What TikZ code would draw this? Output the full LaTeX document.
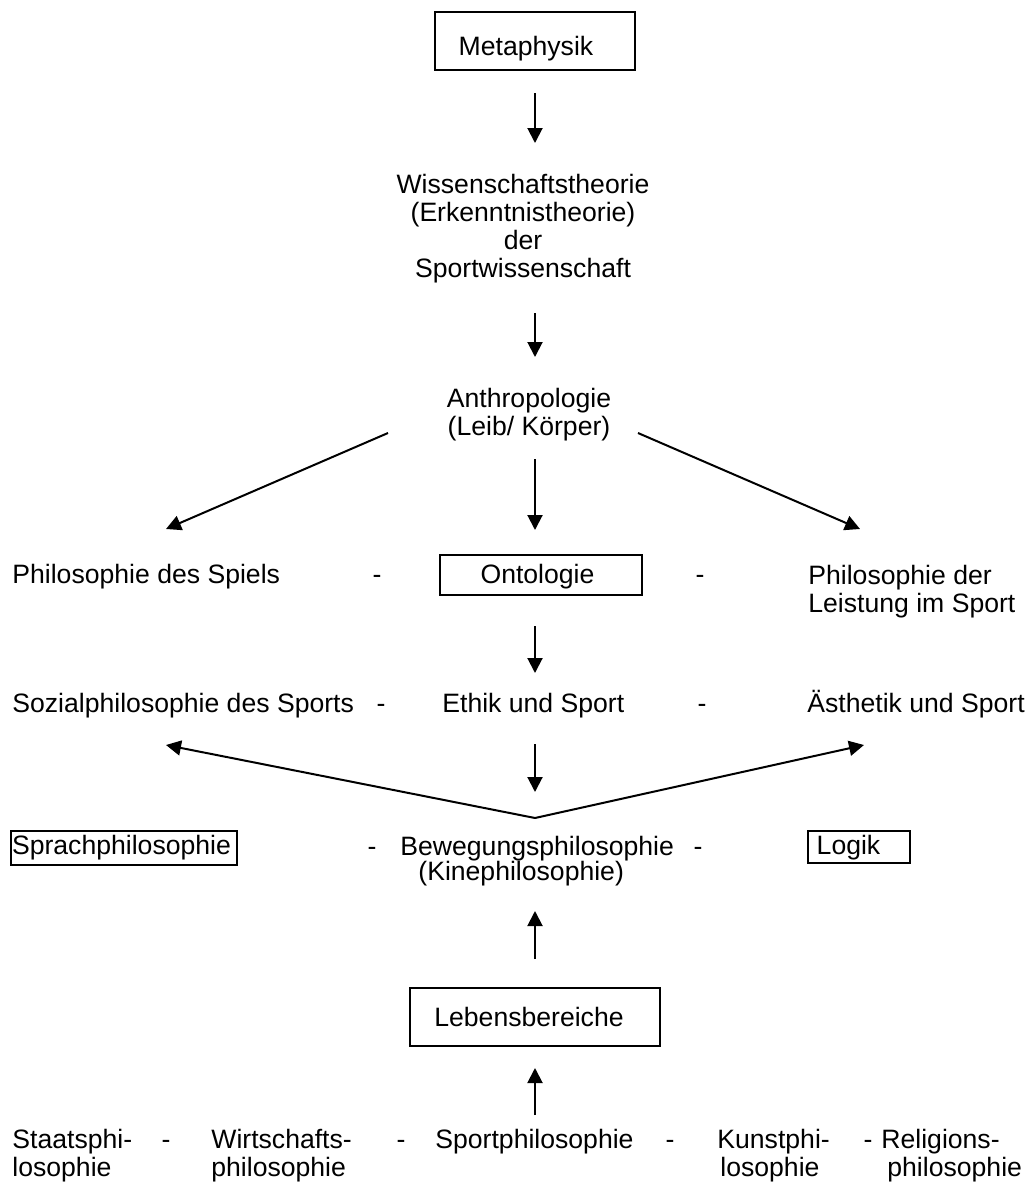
\documentclass[tikz,border=0pt]{standalone}
\usepackage{fontspec}
\setmainfont{Liberation Sans}
\usetikzlibrary{arrows.meta}
\newcommand\diagfont{\fontsize{13.3pt}{14pt}\selectfont}
\begin{document}
\begin{tikzpicture}[x=0.5pt,y=-0.5pt,
  every node/.style={font=\diagfont, inner sep=0pt},
  % single and multi-line texts sit on the baseline of their last line
  txt/.style={anchor=base west},
  ctr/.style={anchor=base},
  dashmark/.style={anchor=base},
  framed/.style={draw, line width=1pt, text depth=0pt},
  arr/.style={line width=1pt, -{Triangle[length=7.5pt,width=7.5pt]}},
]
\useasboundingbox[fill=white] (0,0) rectangle (1025,1184);

% framed topics
\node[framed, minimum width=100pt, minimum height=29pt, text height=14pt] (meta) at (535,41) {Metaphysik\hspace*{9pt}};
\node[framed, minimum width=101pt, minimum height=20pt, text height=8pt] (onto) at (541,575) {Ontologie\hspace*{3.5pt}};
\node[framed, minimum width=113pt, minimum height=17pt, text height=6pt] (sprach) at (124,848) {Sprachphilosophie\hspace*{2.5pt}};
\node[framed, minimum width=51pt, minimum height=16pt, text height=7pt] (logik) at (859,847) {Logik\hspace*{10.5pt}};
\node[framed, minimum width=125pt, minimum height=29pt, text height=9pt] (leben) at (535,1017) {Lebensbereiche\hspace*{6pt}};

% plain topics
\node[ctr, align=center] (wiss) at (523,277) {Wissenschaftstheorie\\(Erkenntnistheorie)\\der\\Sportwissenschaft};
\node[ctr, align=center] (anthro) at (529,435) {Anthropologie\\(Leib/ Körper)};

\node[txt] (spiel) at (12,583) {Philosophie des Spiels};
\node[dashmark] (d1) at (377,583) {-};
\node[dashmark] (d2) at (700,583) {-};
\node[txt, align=left] (leist) at (808,612) {Philosophie der\\Leistung im Sport};

\node[txt] (sozial) at (12,712) {Sozialphilosophie des Sports};
\node[dashmark] (d3) at (381,712) {-};
\node[txt] (ethik) at (442,712) {Ethik und Sport};
\node[dashmark] (d4) at (702,712) {-};
\node[txt] (aesth) at (807,712) {Ästhetik und Sport};

\node[dashmark] (d5) at (372,855) {-};
\node[txt, align=left] (beweg) at (400,880) {Bewegungsphilosophie\\[-1.5pt]\hspace*{9pt}(Kinephilosophie)};
\node[dashmark] (d6) at (698,855) {-};

\node[txt, align=left] (staat) at (12,1176) {Staatsphi-\\losophie};
\node[dashmark] (d7) at (166,1148) {-};
\node[txt, align=left] (wirt) at (211,1176) {Wirtschafts-\\philosophie};
\node[dashmark] (d8) at (401,1148) {-};
\node[txt] (sport) at (435,1148) {Sportphilosophie};
\node[dashmark] (d9) at (670,1148) {-};
\node[txt, align=left] (kunst) at (717,1176) {Kunstphi-\\\hspace*{1.5pt}losophie};
\node[dashmark] (d10) at (868,1148) {-};
\node[txt, align=left] (relig) at (881,1176) {Religions-\\\hspace*{3pt}philosophie};

% arrow end points
\coordinate (meta-out) at (535,93);   \coordinate (wiss-in) at (535,143);
\coordinate (wiss-out) at (535,313);  \coordinate (anthro-in) at (535,357);
\coordinate (anthro-l) at (388,433);  \coordinate (spiel-in) at (166,529);
\coordinate (anthro-c) at (535,459);  \coordinate (onto-in) at (535,530);
\coordinate (anthro-r) at (638,433);  \coordinate (leist-in) at (860,529);
\coordinate (onto-out) at (535,626);  \coordinate (ethik-in) at (535,673);
\coordinate (ethik-out) at (535,744); \coordinate (beweg-in) at (535,792);
\coordinate (beweg-apex) at (535,818);
\coordinate (sozial-in) at (166,745); \coordinate (aesth-in) at (864,745);
\coordinate (leben-out) at (535,959); \coordinate (beweg-up) at (535,911);
\coordinate (sport-out) at (535,1115);\coordinate (leben-in) at (535,1068);

% connectors
\draw[arr] (meta-out) -- (wiss-in);
\draw[arr] (wiss-out) -- (anthro-in);
\draw[arr] (anthro-l) -- (spiel-in);
\draw[arr] (anthro-c) -- (onto-in);
\draw[arr] (anthro-r) -- (leist-in);
\draw[arr] (onto-out) -- (ethik-in);
\draw[arr] (ethik-out) -- (beweg-in);
\draw[arr] (beweg-apex) -- (sozial-in);
\draw[arr] (beweg-apex) -- (aesth-in);
\draw[arr] (leben-out) -- (beweg-up);
\draw[arr] (sport-out) -- (leben-in);
\end{tikzpicture}
\end{document}
